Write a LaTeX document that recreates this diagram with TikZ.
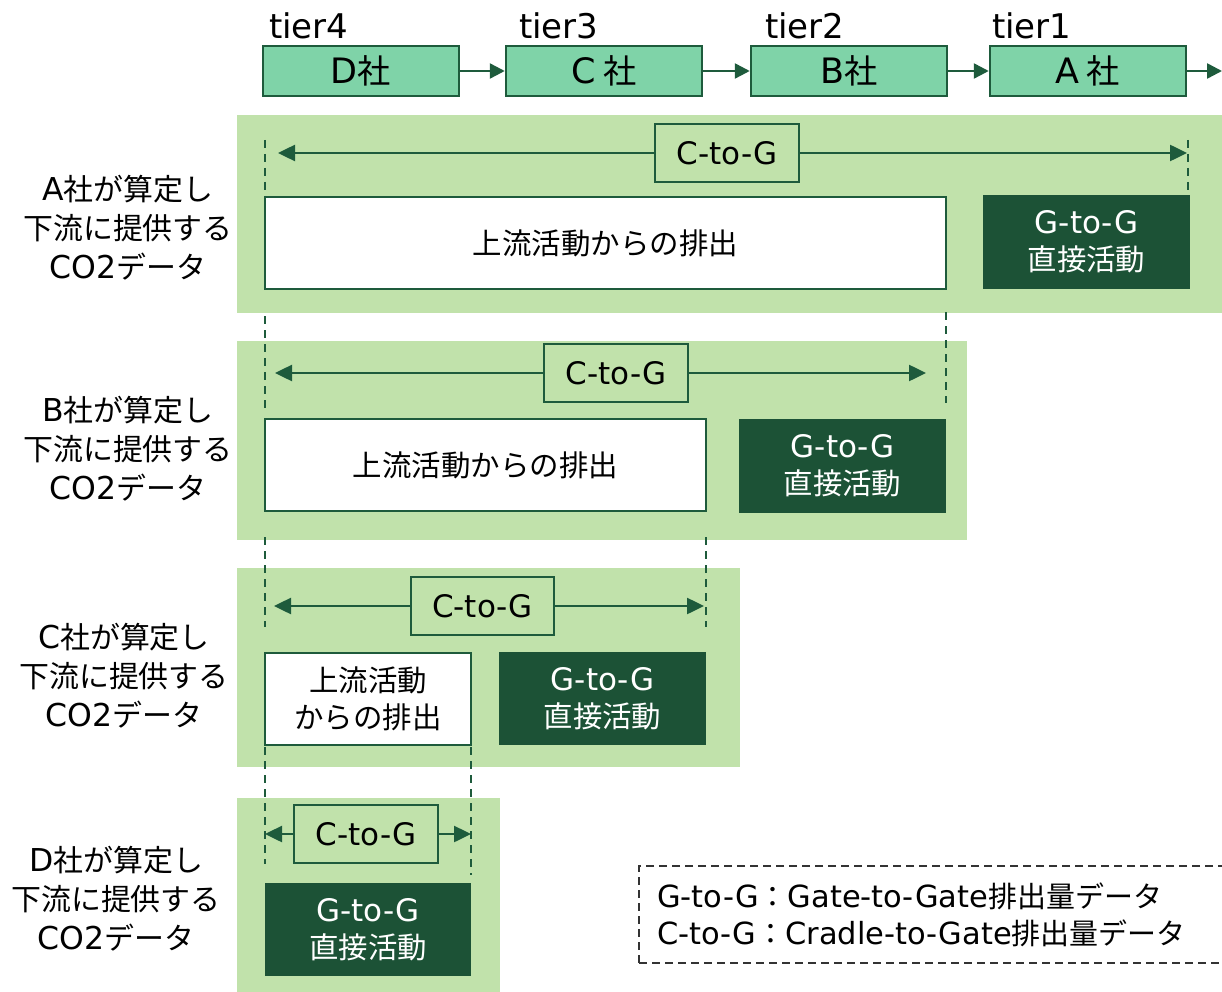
\documentclass[tikz,border=0pt]{standalone}
\usepackage{fontspec}
\setmainfont{DejaVu Sans}
\newfontfamily\jpf{Noto Sans CJK JP}[Scale=0.95]
\newcommand{\J}[1]{{\jpf #1}}
\usetikzlibrary{arrows.meta}
\definecolor{bg}{HTML}{C1E2AB}
\definecolor{mint}{HTML}{7FD3A8}
\definecolor{dark}{HTML}{1C5236}
\definecolor{lc}{HTML}{1E5B3C}
\definecolor{lg}{HTML}{333333}
\tikzset{
  company/.style={draw=lc, line width=2.5pt, fill=mint, minimum width=196pt, minimum height=50pt, inner sep=0pt, font=\fontsize{35}{40}\selectfont},
  tierlbl/.style={anchor=west, inner sep=0pt, font=\fontsize{34}{40}\selectfont},
  panel/.style={fill=bg, draw=none, inner sep=0pt},
  ctog/.style={draw=lc, line width=2pt, fill=bg, minimum width=144pt, minimum height=58pt, inner sep=0pt, font=\fontsize{31}{38}\selectfont},
  upbox/.style={draw=lc, line width=2.5pt, fill=white, inner sep=0pt, align=center, font=\fontsize{31}{37}\selectfont},
  gbox/.style={fill=dark, draw=none, text=white, inner sep=0pt, align=center, font=\fontsize{31}{37}\selectfont},
  sidelbl/.style={inner sep=0pt, align=center, font=\fontsize{31.5}{39}\selectfont},
  dimarrow/.style={draw=lc, line width=2.5pt, -{Triangle[length=17pt,width=16pt]}},
  flowarrow/.style={draw=lc, line width=2.5pt, -{Triangle[length=15pt,width=15pt]}},
  vdash/.style={draw=lc, line width=2pt, dash pattern=on 8pt off 6pt},
}
\begin{document}
\begin{tikzpicture}[x=1pt,y=-1pt]
\useasboundingbox (0,0) rectangle (1222,992);

% ---- top chain ----
\node[company] (D) at (361,71) {D\J{社}};
\node[company] (C) at (604,71) {C\hspace{0.2em}\J{社}};
\node[company] (B) at (849,71) {B\J{社}};
\node[company] (A) at (1088,71) {A\hspace{0.2em}\J{社}};
\node[tierlbl] (t4) at (269,26) {tier4};
\node[tierlbl] (t3) at (519,26) {tier3};
\node[tierlbl] (t2) at (765,26) {tier2};
\node[tierlbl] (t1) at (992,26) {tier1};
\coordinate (out) at (1222,71);
\draw[flowarrow] (D.east) -- (C.west);
\draw[flowarrow] (C.east) -- (B.west);
\draw[flowarrow] (B.east) -- (A.west);
\draw[flowarrow] (A.east) -- (out);

% ---- panels ----
\node[panel, minimum width=985pt, minimum height=198pt] (pA) at (729.5,214) {};
\node[panel, minimum width=730pt, minimum height=199pt] (pB) at (602,440.5) {};
\node[panel, minimum width=503pt, minimum height=199pt] (pC) at (488.5,667.5) {};
\node[panel, minimum width=263pt, minimum height=194pt] (pD) at (368.5,895) {};

% ---- side labels ----
\node[sidelbl] (lA) at (128,228) {A\J{社が算定し}\\\J{下流に提供する}\\CO2\J{データ}};
\node[sidelbl] (lB) at (128,449) {B\J{社が算定し}\\\J{下流に提供する}\\CO2\J{データ}};
\node[sidelbl] (lC) at (124,676) {C\J{社が算定し}\\\J{下流に提供する}\\CO2\J{データ}};
\node[sidelbl] (lD) at (116,899) {D\J{社が算定し}\\\J{下流に提供する}\\CO2\J{データ}};

% ---- dashed guide lines ----
\coordinate (a1) at (265,140); \coordinate (a2) at (265,230);
\coordinate (a3) at (1188,140); \coordinate (a4) at (1188,230);
\coordinate (b1) at (265,316); \coordinate (b2) at (265,408);
\coordinate (b3) at (946,312); \coordinate (b4) at (946,403);
\coordinate (c1) at (265,537); \coordinate (c2) at (265,627);
\coordinate (c3) at (706,537); \coordinate (c4) at (706,627);
\coordinate (d1) at (265,747); \coordinate (d2) at (265,864);
\coordinate (d3) at (471,747); \coordinate (d4) at (471,875);
\draw[vdash] (a1) -- (a2); \draw[vdash] (a3) -- (a4);
\draw[vdash] (b1) -- (b2); \draw[vdash] (b3) -- (b4);
\draw[vdash] (c1) -- (c2); \draw[vdash] (c3) -- (c4);
\draw[vdash] (d1) -- (d2); \draw[vdash] (d3) -- (d4);

% ---- panel A ----
\node[upbox, minimum width=681pt, minimum height=92pt] (uA) at (605.5,243) {\J{上流活動からの排出}};
\node[gbox, minimum width=207pt, minimum height=94pt] (gA) at (1086.5,242) {G-to-G\\\J{直接活動}};
\node[ctog] (cA) at (727,153) {C-to-G};
\coordinate (cAl) at (278,153); \coordinate (cAr) at (1187,153);
\draw[dimarrow] (cA.west) -- (cAl);
\draw[dimarrow] (cA.east) -- (cAr);

% ---- panel B ----
\node[upbox, minimum width=441pt, minimum height=92pt] (uB) at (485.5,465) {\J{上流活動からの排出}};
\node[gbox, minimum width=207pt, minimum height=94pt] (gB) at (842.5,466) {G-to-G\\\J{直接活動}};
\node[ctog] (cB) at (616,373) {C-to-G};
\coordinate (cBl) at (275,373); \coordinate (cBr) at (926,373);
\draw[dimarrow] (cB.west) -- (cBl);
\draw[dimarrow] (cB.east) -- (cBr);

% ---- panel C ----
\node[upbox, minimum width=206pt, minimum height=92pt] (uC) at (368,699) {\J{上流活動}\\\J{からの排出}};
\node[gbox, minimum width=207pt, minimum height=93pt] (gC) at (602.5,698.5) {G-to-G\\\J{直接活動}};
\node[ctog, minimum width=143pt] (cC) at (482.5,606) {C-to-G};
\coordinate (cCl) at (274,606); \coordinate (cCr) at (704,606);
\draw[dimarrow] (cC.west) -- (cCl);
\draw[dimarrow] (cC.east) -- (cCr);

% ---- panel D ----
\node[gbox, minimum width=206pt, minimum height=93pt] (gD) at (368,929.5) {G-to-G\\\J{直接活動}};
\node[ctog] (cD) at (366,834) {C-to-G};
\coordinate (cDl) at (265,834); \coordinate (cDr) at (471,834);
\draw[dimarrow] (cD.west) -- (cDl);
\draw[dimarrow] (cD.east) -- (cDr);

% ---- legend ----
\node[draw=lg, line width=1.5pt, dash pattern=on 8pt off 5pt, minimum width=596pt, minimum height=97pt, inner sep=0pt] (legbox) at (937,914.5) {};
\node[anchor=west, inner sep=0pt, align=left, font=\fontsize{30.5}{37}\selectfont] (leg) at (657,915)
  {G-to-G\J{：}Gate-to-Gate\J{排出量データ}\\C-to-G\J{：}Cradle-to-Gate\J{排出量データ}};
\end{tikzpicture}
\end{document}
